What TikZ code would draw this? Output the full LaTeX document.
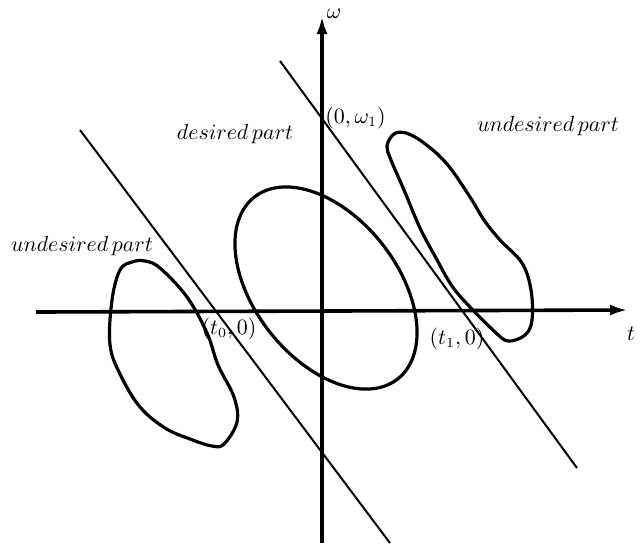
\documentclass[tikz,border=0pt]{standalone}
\usetikzlibrary{arrows.meta}
\begin{document}
\begin{tikzpicture}[x=0.5pt,y=-0.5pt,
  axis/.style={line width=1.8pt, -{Latex[length=9pt,width=5.5pt]}},
  cut/.style={line width=1pt},
  region/.style={line width=1.6pt, line join=round},
  lbl/.style={inner sep=0pt, font=\fontsize{10.7}{13}\selectfont}]
\useasboundingbox (0,0) rectangle (640,543);
% axes
\coordinate (tL) at (36,312);
\coordinate (tR) at (628,310);
\coordinate (wB) at (322,543);
\coordinate (wT) at (322,16);
\draw[axis] (tL) -- (tR);
\draw[axis] (wB) -- (wT);
% cut lines
\coordinate (a1) at (280,61);
\coordinate (a2) at (577,468);
\coordinate (b1) at (80,130);
\coordinate (b2) at (390,543);
\draw[cut] (a1) -- (a2);
\draw[cut] (b1) -- (b2);
% desired ellipse
\draw[region] plot[domain=0:360, samples=120, smooth cycle, variable=\t]
  ({326 + 115.8*cos(\t)*0.6198 - 71.4*sin(\t)*0.7848},
   {288 + 115.8*cos(\t)*0.7848 + 71.4*sin(\t)*0.6198});
% undesired right blob
\draw[region] plot[smooth cycle, tension=0.6] coordinates {
  (394,134) (406,133) (424,143) (447,164) (470,197) (484,220) (500,240)
  (522,263) (531,290) (532,320) (525,335) (508,341) (494,331) (470,307)
  (452,286) (436,258) (420,228) (404,190) (391,160) (387,146)};
% undesired left blob
\draw[region] plot[smooth cycle, tension=0.6] coordinates {
  (132,262) (145,261) (160,268) (187,297) (207,333) (218,365) (234,397)
  (237,422) (224,444) (212,446) (190,439) (165,428) (140,407) (121,376)
  (110,345) (112,300) (120,270)};
% labels
\node[lbl] (lw) at (334,14) {$\omega$};
\node[lbl] (lt) at (631,334) {$t$};
\node[lbl, anchor=west] (lw1) at (325,118) {$(0,\omega_1)$};
\node[lbl] (lt0) at (229,329) {$(t_0,0)$};
\node[lbl] (lt1) at (457,339) {$(t_1,0)$};
\node[lbl] (ld) at (235,134) {$desired\,part$};
\node[lbl] (lur) at (548,126) {$undesired\,part$};
\node[lbl] (lul) at (82,246) {$undesired\,part$};
\end{tikzpicture}
\end{document}
